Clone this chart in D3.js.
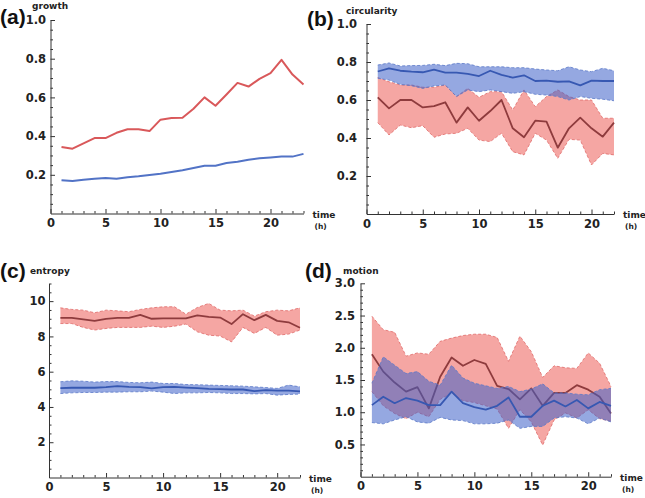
<!DOCTYPE html>
<html>
<head>
<meta charset="utf-8">
<script src="https://cdn.jsdelivr.net/npm/d3@7/dist/d3.min.js"></script>
<style>
body { margin: 0; background: #fff; }
svg { display: block; }
.tick text { font-family: "DejaVu Sans", sans-serif; font-weight: bold; font-size: 11.5px; fill: #222; }
</style>
</head>
<body>
<div id="chart"></div>
<script>
// time points (h)
const timeA = [1, 2, 3, 4, 5, 6, 7, 8, 9, 10, 11, 12, 13, 14, 15, 16, 17, 18, 19, 20, 21, 22, 23];
const timeB = [1, 2, 3, 4, 5, 6, 7, 8, 9, 10, 11, 12, 13, 14, 15, 16, 17, 18, 19, 20, 21, 22];

// (a) growth
const growthRed = [0.344, 0.335, 0.362, 0.39, 0.39, 0.417, 0.435, 0.435, 0.426, 0.485, 0.493, 0.495, 0.541, 0.60, 0.557, 0.615, 0.675, 0.656, 0.696, 0.725, 0.794, 0.718, 0.667];
const growthBlue = [0.172, 0.168, 0.175, 0.18, 0.184, 0.18, 0.187, 0.192, 0.199, 0.206, 0.215, 0.223, 0.235, 0.247, 0.247, 0.261, 0.268, 0.278, 0.285, 0.29, 0.294, 0.294, 0.308];

// (b) circularity
const circRedMean = [0.614, 0.556, 0.60, 0.60, 0.561, 0.568, 0.588, 0.481, 0.561, 0.491, 0.542, 0.60, 0.451, 0.404, 0.491, 0.486, 0.349, 0.451, 0.507, 0.451, 0.407, 0.481];
const circRedHigh = [0.718, 0.696, 0.679, 0.679, 0.667, 0.667, 0.679, 0.618, 0.661, 0.614, 0.644, 0.644, 0.547, 0.653, 0.565, 0.618, 0.653, 0.618, 0.60, 0.60, 0.504, 0.504];
const circRedLow = [0.481, 0.416, 0.468, 0.454, 0.465, 0.404, 0.421, 0.425, 0.451, 0.389, 0.381, 0.425, 0.328, 0.311, 0.425, 0.389, 0.293, 0.393, 0.389, 0.258, 0.319, 0.311];
const circBlueMean = [0.75, 0.767, 0.754, 0.749, 0.746, 0.76, 0.744, 0.744, 0.737, 0.726, 0.754, 0.732, 0.718, 0.73, 0.70, 0.702, 0.696, 0.698, 0.677, 0.702, 0.70, 0.70];
const circBlueHigh = [0.784, 0.795, 0.779, 0.781, 0.782, 0.788, 0.781, 0.793, 0.791, 0.775, 0.775, 0.775, 0.77, 0.77, 0.763, 0.758, 0.754, 0.775, 0.758, 0.749, 0.767, 0.754];
const circBlueLow = [0.714, 0.705, 0.682, 0.675, 0.661, 0.674, 0.679, 0.618, 0.653, 0.644, 0.653, 0.644, 0.635, 0.644, 0.63, 0.626, 0.618, 0.60, 0.618, 0.609, 0.604, 0.596];

// (c) entropy
const entRedMean = [9.05, 9.05, 8.96, 8.88, 9.0, 9.05, 9.05, 9.22, 9.0, 9.02, 9.02, 9.02, 9.19, 9.11, 9.07, 8.7, 9.26, 8.92, 9.22, 8.88, 8.8, 8.49];
const entRedHigh = [9.62, 9.53, 9.49, 9.34, 9.49, 9.45, 9.4, 9.53, 9.62, 9.68, 9.68, 9.26, 9.64, 9.87, 9.49, 9.45, 9.49, 9.15, 9.4, 9.49, 9.45, 9.62];
const entRedLow = [8.73, 8.73, 8.51, 8.36, 8.45, 8.51, 8.51, 8.51, 8.58, 8.51, 8.58, 8.7, 8.26, 8.07, 8.02, 7.69, 8.51, 8.17, 8.51, 8.07, 8.13, 8.36];
const entBlueMean = [5.07, 5.09, 5.09, 5.09, 5.12, 5.18, 5.14, 5.12, 5.05, 5.12, 5.14, 5.1, 5.07, 5.03, 5.01, 4.99, 4.99, 4.9, 4.95, 4.93, 4.93, 4.88];
const entBlueHigh = [5.43, 5.48, 5.46, 5.41, 5.44, 5.44, 5.39, 5.37, 5.41, 5.33, 5.33, 5.27, 5.26, 5.24, 5.22, 5.2, 5.18, 5.14, 5.1, 5.05, 5.24, 5.14];
const entBlueLow = [4.76, 4.8, 4.82, 4.82, 4.84, 4.84, 4.86, 4.86, 4.9, 4.84, 4.76, 4.8, 4.8, 4.82, 4.8, 4.76, 4.76, 4.74, 4.76, 4.67, 4.71, 4.73];

// (d) motion
const motRedMean = [1.9, 1.63, 1.46, 1.32, 1.39, 1.06, 1.55, 1.85, 1.72, 1.81, 1.75, 1.41, 1.36, 1.2, 1.37, 1.1, 1.3, 1.3, 1.42, 1.35, 1.24, 0.98];
const motRedHigh = [2.49, 2.28, 2.24, 1.87, 1.92, 1.9, 2.1, 2.15, 2.19, 2.21, 2.21, 2.16, 1.79, 2.18, 1.94, 1.54, 1.72, 1.69, 1.68, 1.92, 1.76, 1.40];
const motRedLow = [1.32, 1.1, 0.98, 0.9, 1.0, 0.93, 1.2, 1.3, 1.18, 1.15, 1.1, 1.05, 0.75, 1.04, 0.85, 0.49, 0.88, 0.99, 0.91, 1.04, 0.9, 0.86];
const motBlueMean = [1.11, 1.24, 1.14, 1.22, 1.18, 1.11, 1.11, 1.32, 1.14, 1.08, 1.04, 1.1, 1.23, 0.93, 0.93, 1.1, 1.18, 1.09, 1.19, 1.06, 1.16, 1.1];
const motBlueHigh = [1.45, 1.86, 1.73, 1.6, 1.63, 1.48, 1.42, 1.73, 1.53, 1.45, 1.41, 1.37, 1.40, 1.32, 1.36, 1.44, 1.30, 1.30, 1.28, 1.27, 1.35, 1.37];
const motBlueLow = [0.84, 0.82, 0.88, 0.93, 0.85, 0.83, 0.92, 0.88, 0.87, 0.82, 0.82, 0.83, 0.88, 0.75, 0.78, 0.78, 0.91, 0.93, 0.91, 0.82, 0.91, 0.85];

// axis ticks
const xMajorTicks = [0, 5, 10, 15, 20];
const yTicksA = [0.2, 0.4, 0.6, 0.8, 1.0];
const yTicksC = [2, 4, 6, 8, 10];
const yTicksD = [0.5, 1.0, 1.5, 2.0, 2.5, 3.0];

const colors = {
    redLine: "#d9585a",
    blueLine: "#5273c6",
    redMean: "#8e3b3d",
    blueMean: "#3758b2",
    redBand: "rgb(236,92,88)",
    blueBand: "rgb(62,96,200)",
    redEdge: "#df6a68",
    blueEdge: "#5a78c8",
    axis: "#333"
};

const labelFont = "'DejaVu Sans', sans-serif";

const svg = d3.select("#chart").append("svg")
    .attr("width", 645)
    .attr("height", 498);

function makeScales(p) {
    const x = d3.scaleLinear().domain([0, p.xMax]).range([p.left, p.right]);
    const y = d3.scaleLinear().domain([0, p.yMax]).range([p.bottom, p.top]);
    return {x, y};
}

function drawAxes(g, p, s) {
    const xMinor = d3.range(1, Math.floor(p.xMax) + 1).filter(v => v % 5 !== 0);
    const yMinor = d3.range(p.yMinorStep, p.yMax + 1e-9, p.yMinorStep)
        .filter(v => !p.yTicks.some(t => Math.abs(t - v) < 1e-9));

    // minor ticks first, major axis on top
    g.append("g")
        .attr("transform", `translate(0,${p.bottom})`)
        .call(d3.axisBottom(s.x).tickValues(xMinor).tickSize(-2.5).tickFormat(""))
        .call(a => a.select(".domain").remove());
    g.append("g")
        .attr("transform", `translate(${p.left},0)`)
        .call(d3.axisLeft(s.y).tickValues(yMinor).tickSize(-2.5).tickFormat(""))
        .call(a => a.select(".domain").remove());

    g.append("g")
        .attr("transform", `translate(0,${p.bottom})`)
        .call(d3.axisBottom(s.x).tickValues(xMajorTicks).tickSize(-4.5).tickSizeOuter(0).tickPadding(5.5).tickFormat(d3.format("d")));
    g.append("g")
        .attr("transform", `translate(${p.left},0)`)
        .call(d3.axisLeft(s.y).tickValues(p.yTicks).tickSize(-4.5).tickSizeOuter(0).tickPadding(p.yPad).tickFormat(p.yFormat));

    g.selectAll(".domain, .tick line").attr("stroke", colors.axis).attr("stroke-width", 1);

    // labels
    g.append("text")
        .attr("x", p.labelX).attr("y", p.labelY)
        .attr("font-family", "'Liberation Sans', Arial, sans-serif")
        .attr("font-weight", "bold").attr("font-size", 21)
        .attr("fill", "#111")
        .text(p.label);
    g.append("text")
        .attr("x", p.nameX).attr("y", p.nameY)
        .attr("font-family", labelFont)
        .attr("font-weight", "bold").attr("font-size", 9)
        .attr("fill", "#222")
        .text(p.name);
    g.append("text")
        .attr("x", p.right + 9).attr("y", p.bottom + 4)
        .attr("font-family", labelFont)
        .attr("font-weight", "bold").attr("font-size", 9)
        .attr("fill", "#222")
        .text("time");
    g.append("text")
        .attr("x", p.right + 11).attr("y", p.bottom + 15)
        .attr("font-family", labelFont)
        .attr("font-weight", "bold").attr("font-size", 7.5)
        .attr("fill", "#222")
        .text("(h)");
}

function drawBand(g, s, t, low, high, mean, fill, edge, meanColor) {
    const idx = t.map((d, i) => i);
    const area = d3.area()
        .x(i => s.x(t[i]))
        .y0(i => s.y(low[i]))
        .y1(i => s.y(high[i]));
    const line = (vals) => d3.line().x(i => s.x(t[i])).y(i => s.y(vals[i]))(idx);

    g.append("path")
        .attr("d", area(idx))
        .attr("fill", fill)
        .attr("fill-opacity", 0.55);
    [low, high].forEach(vals => {
        g.append("path")
            .attr("d", line(vals))
            .attr("fill", "none")
            .attr("stroke", edge)
            .attr("stroke-width", 0.8)
            .attr("stroke-dasharray", "3,2");
    });
    g.append("path")
        .attr("d", line(mean))
        .attr("fill", "none")
        .attr("stroke", meanColor)
        .attr("stroke-width", 1.8)
        .attr("stroke-linejoin", "round");
}

function drawLine(g, s, t, vals, color) {
    g.append("path")
        .attr("d", d3.line().x((d, i) => s.x(t[i])).y(d => s.y(d))(vals))
        .attr("fill", "none")
        .attr("stroke", color)
        .attr("stroke-width", 2)
        .attr("stroke-linejoin", "round");
}

const fmt1 = d3.format(".1f");

// panel (a)
const pA = {label: "(a)", name: "growth", labelX: 0, labelY: 24, nameX: 32, nameY: 9,
    left: 50.5, right: 303.5, top: 20, bottom: 213.5, xMax: 23, yMax: 1.0,
    yTicks: yTicksA, yMinorStep: 0.05, yPad: 4.5, yFormat: fmt1};
const gA = svg.append("g");
const sA = makeScales(pA);
drawLine(gA, sA, timeA, growthRed, colors.redLine);
drawLine(gA, sA, timeA, growthBlue, colors.blueLine);
drawAxes(gA, pA, sA);

// panel (b)
const pB = {label: "(b)", name: "circularity", labelX: 307, labelY: 26, nameX: 346, nameY: 14,
    left: 366.5, right: 614, top: 24, bottom: 214, xMax: 22, yMax: 1.0,
    yTicks: yTicksA, yMinorStep: 0.05, yPad: 9.5, yFormat: fmt1};
const gB = svg.append("g");
const sB = makeScales(pB);
drawBand(gB, sB, timeB, circRedLow, circRedHigh, circRedMean, colors.redBand, colors.redEdge, colors.redMean);
drawBand(gB, sB, timeB, circBlueLow, circBlueHigh, circBlueMean, colors.blueBand, colors.blueEdge, colors.blueMean);
drawAxes(gB, pB, sB);

// panel (c)
const pC = {label: "(c)", name: "entropy", labelX: 0, labelY: 278, nameX: 30, nameY: 274,
    left: 49, right: 300, top: 283.5, bottom: 477.5, xMax: 22, yMax: 11,
    yTicks: yTicksC, yMinorStep: 0.5, yPad: 3.5, yFormat: d3.format("d")};
const gC = svg.append("g");
const sC = makeScales(pC);
drawBand(gC, sC, timeB, entRedLow, entRedHigh, entRedMean, colors.redBand, colors.redEdge, colors.redMean);
drawBand(gC, sC, timeB, entBlueLow, entBlueHigh, entBlueMean, colors.blueBand, colors.blueEdge, colors.blueMean);
drawAxes(gC, pC, sC);

// panel (d)
const pD = {label: "(d)", name: "motion", labelX: 305, labelY: 278, nameX: 343, nameY: 274,
    left: 360.5, right: 611, top: 283.3, bottom: 476.7, xMax: 22, yMax: 3.0,
    yTicks: yTicksD, yMinorStep: 0.1, yPad: 5.5, yFormat: fmt1};
const gD = svg.append("g");
const sD = makeScales(pD);
drawBand(gD, sD, timeB, motRedLow, motRedHigh, motRedMean, colors.redBand, colors.redEdge, colors.redMean);
drawBand(gD, sD, timeB, motBlueLow, motBlueHigh, motBlueMean, colors.blueBand, colors.blueEdge, colors.blueMean);
drawAxes(gD, pD, sD);
</script>
</body>
</html>
